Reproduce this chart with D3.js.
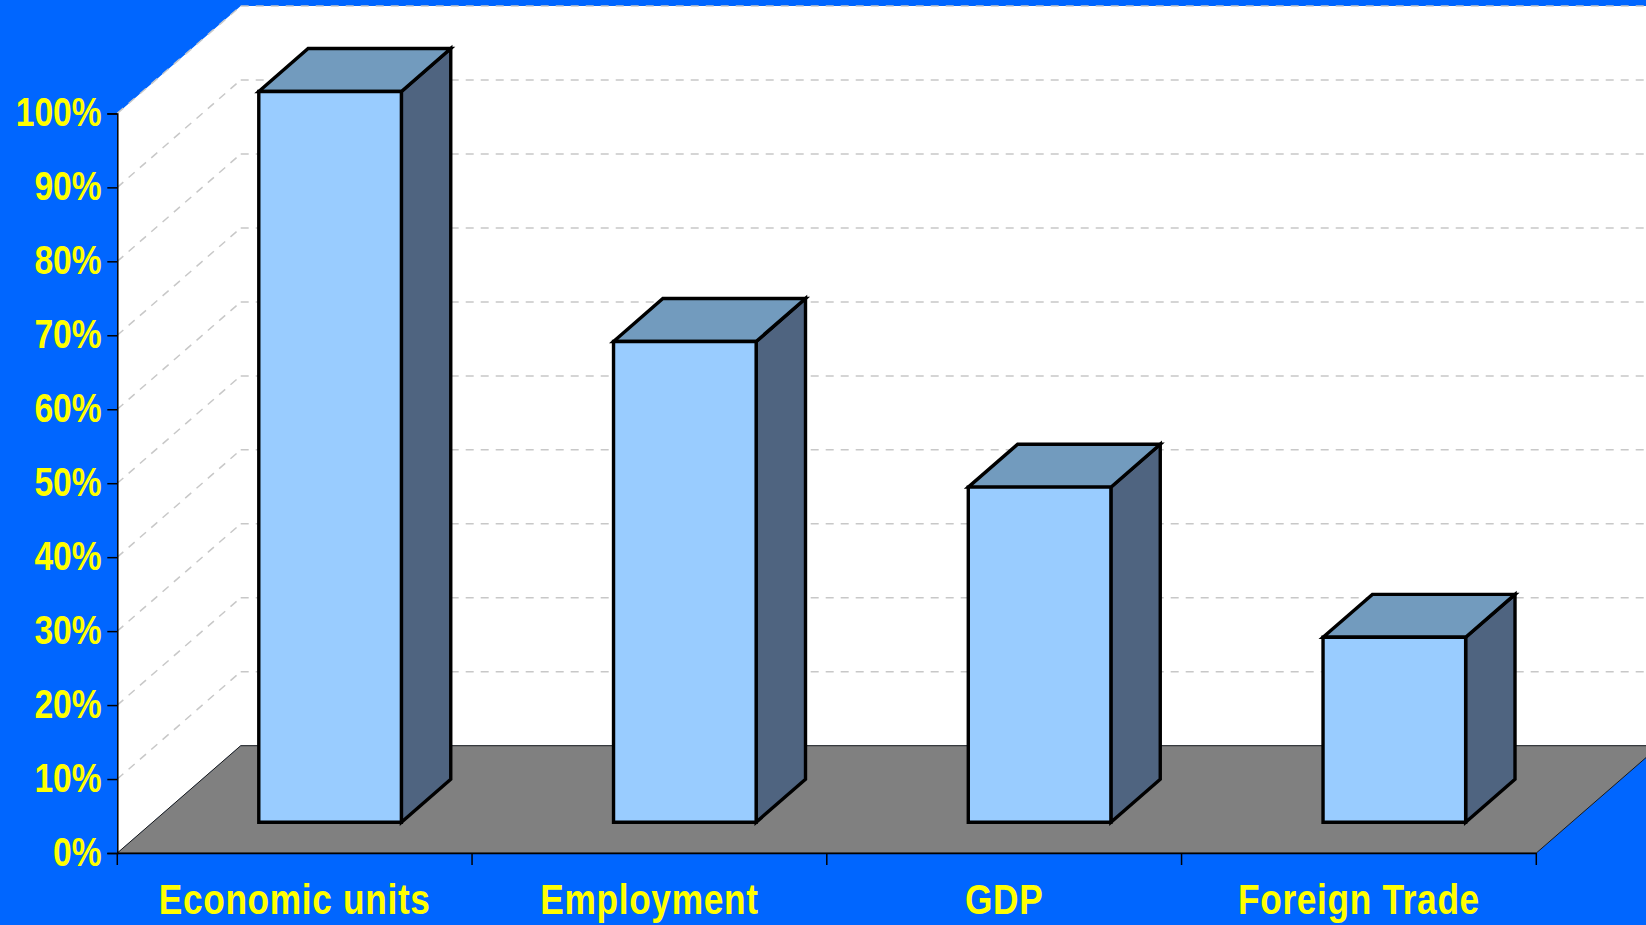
<!DOCTYPE html>
<html>
<head>
<meta charset="utf-8">
<script src="https://cdn.jsdelivr.net/npm/d3@7"></script>
<style>
  html, body { margin: 0; padding: 0; background: #0066ff; overflow: hidden; }
  svg { display: block; }
  .lbl { font-family: "Liberation Sans", Arial, sans-serif; font-weight: bold; fill: #ffff00; }
</style>
</head>
<body>
<svg id="chart" width="1646" height="925"></svg>
<script>
// Chart data
const categories = ["Economic units", "Employment", "GDP", "Foreign Trade"];
const shares = [0.988, 0.65, 0.453, 0.25];
const tickValues = [0, 0.1, 0.2, 0.3, 0.4, 0.5, 0.6, 0.7, 0.8, 0.9, 1.0];

const W = 1646, H = 925;
const svg = d3.select("#chart");

// Front plane of the 3-D box
const x0 = 117.3, x1 = 1536.3;
const yBase = 853, yTop = 113.4;
// Oblique depth offset (full depth)
const DX = 123.4, DY = -107.3;
// Bars occupy this slice of the depth
const dFront = 0.287, dBack = 0.687;

const x = d3.scaleBand().domain(categories).range([x0, x1]).paddingInner(0).paddingOuter(0);
const y = d3.scaleLinear().domain([0, 1]).range([yBase, yTop]);
const barW = x.bandwidth() * 0.402;

const P = (px, v, d) => [px + d * DX, y(v) + d * DY];
const poly = pts => "M" + pts.map(p => p.join(",")).join("L") + "Z";

// Side wall and back wall as one white surface
svg.append("path")
  .attr("d", poly([
    P(x0, 0, 0), P(x0, 1, 0), P(x0, 1, 1),
    [W + 10, y(1) + DY], [W + 10, y(0) + DY], P(x0, 0, 1)
  ]))
  .attr("fill", "#ffffff");

// Gridlines on side and back walls
const grid = svg.append("g")
  .attr("fill", "none")
  .attr("stroke", "#c8c8c8")
  .attr("stroke-width", 1.5)
  .attr("stroke-dasharray", "8,7");
tickValues.filter(v => v > 0).forEach(v => {
  grid.append("path").attr("d", "M" + P(x0, v, 0).join(",") + "L" + P(x0, v, 1).join(","));
  grid.append("path").attr("d", "M" + P(x0, v, 1).join(",") + "L" + (W + 10) + "," + (y(v) + DY));
});

// Floor
svg.append("path")
  .attr("d", poly([P(x0, 0, 0), P(x1, 0, 0), P(x1, 0, 1), [W + 200, y(0) + DY], P(x0, 0, 1)]))
  .attr("fill", "#808080")
  .attr("stroke", "#1a1a1a")
  .attr("stroke-width", 1);

// Bars: side, top, front faces
const bars = svg.append("g")
  .attr("stroke", "#000")
  .attr("stroke-width", 3.4)
  .attr("stroke-linejoin", "miter");
categories.forEach((c, i) => {
  const v = shares[i];
  const l = x(c) + (x.bandwidth() - barW) / 2;
  const r = l + barW;
  const g = bars.append("g");
  g.append("path")
    .attr("d", poly([P(r, 0, dFront), P(r, v, dFront), P(r, v, dBack), P(r, 0, dBack)]))
    .attr("fill", "#4f6480");
  g.append("path")
    .attr("d", poly([P(l, v, dFront), P(r, v, dFront), P(r, v, dBack), P(l, v, dBack)]))
    .attr("fill", "#729bbe");
  g.append("path")
    .attr("d", poly([P(l, 0, dFront), P(r, 0, dFront), P(r, v, dFront), P(l, v, dFront)]))
    .attr("fill", "#99ccff");
});

// Value axis
const yAxis = svg.append("g")
  .attr("transform", `translate(${x0},0)`)
  .call(d3.axisLeft(y).tickValues(tickValues).tickFormat(d3.format(".0%")).tickSize(10).tickPadding(5));
yAxis.select(".domain").attr("stroke", "#000").attr("stroke-width", 1.5);
yAxis.selectAll(".tick line").attr("stroke", "#000").attr("stroke-width", 1.5);
yAxis.selectAll(".tick text")
  .attr("class", "lbl")
  .attr("font-size", 41)
  .attr("x", 0)
  .attr("dy", "0.3em")
  .attr("transform", "translate(-15.6,0) scale(0.82,1)");

// Category axis
const xAxis = svg.append("g")
  .attr("transform", `translate(0,${yBase})`)
  .call(d3.axisBottom(x).tickSize(0).tickPadding(0));
xAxis.select(".domain").attr("stroke", "#000").attr("stroke-width", 1.5);
xAxis.selectAll(".tick text")
  .attr("class", "lbl")
  .attr("font-size", 42)
  .attr("letter-spacing", 0.8)
  .attr("y", 61)
  .attr("dy", 0)
  .attr("transform", "scale(0.84,1)");
const edges = categories.map(c => x(c)).concat([x1]);
xAxis.selectAll(".edge")
  .data(edges)
  .join("line")
  .attr("class", "edge")
  .attr("x1", d => d).attr("x2", d => d)
  .attr("y1", 0).attr("y2", 12)
  .attr("stroke", "#000").attr("stroke-width", 1.5);
</script>
</body>
</html>
